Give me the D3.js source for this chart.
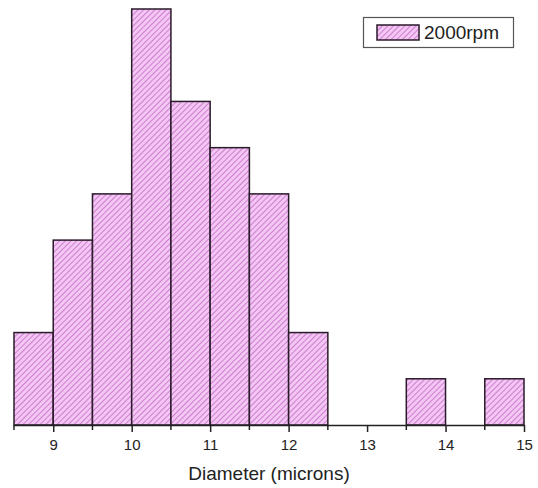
<!DOCTYPE html>
<html>
<head>
<meta charset="utf-8">
<script src="https://cdn.jsdelivr.net/npm/d3@7"></script>
<style>
  body { margin: 0; background: #fff; }
  svg { display: block; font-family: Arial, "Liberation Sans", sans-serif; }
</style>
</head>
<body>
<div id="chart"></div>
<script>
// bin left edges (microns), bin width 0.5
const binStarts = [8.5, 9, 9.5, 10, 10.5, 11, 11.5, 12, 12.5, 13, 13.5, 14, 14.5];
const counts    = [2,   4, 5,   9,  7,    6,  5,    2,  0,    0,  1,    0,  1];
const binWidth = 0.5;
const tickValues = [9, 10, 11, 12, 13, 14, 15];
const minorTicks = [8.5, 9.5, 10.5, 11.5, 12.5, 13.5, 14.5];
const seriesName = "2000rpm";

const width = 538, height = 488;

const svg = d3.select("#chart").append("svg")
    .attr("width", width)
    .attr("height", height);

const defs = svg.append("defs");
const pat = defs.append("pattern")
    .attr("id", "hatch")
    .attr("patternUnits", "userSpaceOnUse")
    .attr("width", 4)
    .attr("height", 4)
    .attr("patternTransform", "rotate(45)");
pat.append("rect")
    .attr("width", 4).attr("height", 4)
    .attr("fill", "#f3c6f3");
pat.append("line")
    .attr("x1", 0).attr("y1", 0).attr("x2", 0).attr("y2", 4)
    .attr("stroke", "#c46cc8")
    .attr("stroke-width", 1.6);

const x = d3.scaleLinear().domain([8.5, 15]).range([14, 524]);
const y = d3.scaleLinear().domain([0, 9]).range([425, 9]);

// bars
svg.append("g").selectAll("rect")
    .data(binStarts.map((s, i) => ({ x0: s, n: counts[i] })).filter(d => d.n > 0))
  .enter().append("rect")
    .attr("x", d => x(d.x0))
    .attr("y", d => y(d.n))
    .attr("width", d => x(d.x0 + binWidth) - x(d.x0))
    .attr("height", d => y(0) - y(d.n))
    .attr("fill", "url(#hatch)")
    .attr("stroke", "#2a1a2a")
    .attr("stroke-width", 1.5);

// x axis
const axis = svg.append("g")
    .attr("transform", "translate(0," + y(0) + ")")
    .call(d3.axisBottom(x).tickValues(tickValues).tickFormat(d3.format("d"))
      .tickSize(7).tickSizeOuter(0).tickPadding(7));
axis.select(".domain").attr("stroke", "#222").attr("stroke-width", 1.5);
axis.selectAll(".tick line").attr("stroke", "#222").attr("stroke-width", 1.5);
axis.selectAll(".tick text").attr("font-size", 15).attr("fill", "#222")
    .attr("font-family", "Arial, 'Liberation Sans', sans-serif");

axis.append("g").selectAll("line")
    .data(minorTicks)
  .enter().append("line")
    .attr("x1", d => x(d)).attr("x2", d => x(d))
    .attr("y1", 0).attr("y2", 5)
    .attr("stroke", "#222").attr("stroke-width", 1.5);

svg.append("text")
    .attr("x", 269)
    .attr("y", 480)
    .attr("text-anchor", "middle")
    .attr("font-size", 19)
    .attr("fill", "#222")
    .text("Diameter (microns)");

// legend
const lg = svg.append("g");
lg.append("rect")
    .attr("x", 363.5).attr("y", 17.5)
    .attr("width", 150).attr("height", 30)
    .attr("fill", "#fff")
    .attr("stroke", "#555").attr("stroke-width", 1.2);
lg.append("rect")
    .attr("x", 377).attr("y", 25)
    .attr("width", 42).attr("height", 15)
    .attr("fill", "url(#hatch)")
    .attr("stroke", "#2a1a2a").attr("stroke-width", 1.5);
lg.append("text")
    .attr("x", 424).attr("y", 39)
    .attr("font-size", 19)
    .attr("fill", "#222")
    .text(seriesName);
</script>
</body>
</html>
